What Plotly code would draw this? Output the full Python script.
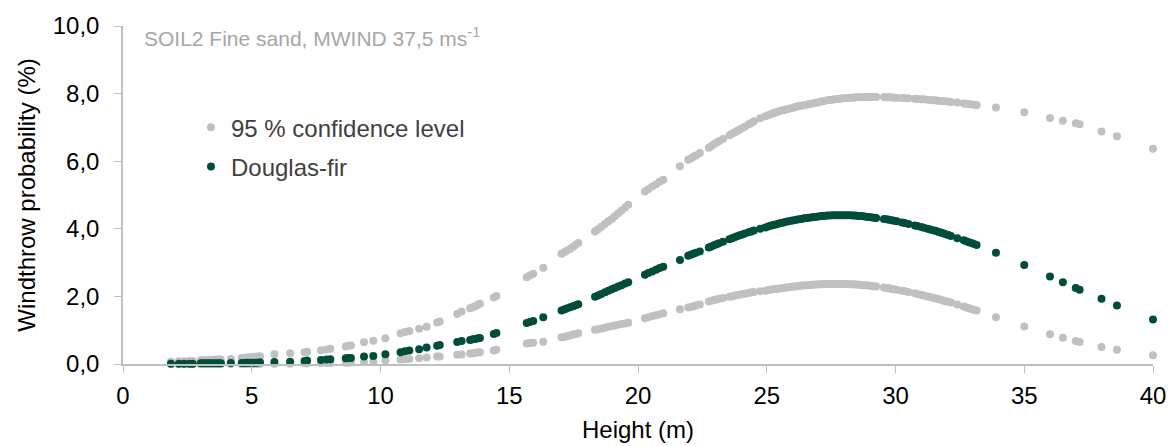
import plotly.graph_objects as go

# Tree height (m) and windthrow probability (%) for Douglas-fir,
# SOIL2 fine sand, MWIND 37.5 m/s, with 95 % confidence bounds.
height = [
    1.86, 2.17, 2.37, 2.58, 2.71, 3.02, 3.12, 3.22, 3.32, 3.42, 3.52, 3.62, 3.72, 3.80,
    4.19, 4.61, 4.70, 4.80, 4.90, 5.00, 5.10, 5.20, 5.32, 5.88, 6.49, 7.05, 7.15, 7.69,
    7.90, 8.05, 8.65, 8.75, 8.85, 9.36, 9.72, 10.19, 10.78, 10.95, 11.12, 11.50, 11.79,
    12.20, 12.30, 12.98, 13.15, 13.48, 13.58, 13.68, 13.78, 13.86, 14.40, 14.50, 15.68,
    15.80, 15.93, 16.32, 17.03, 17.13, 17.23, 17.36, 17.48, 17.58, 17.68, 18.33, 18.45,
    18.58, 18.72, 18.85, 18.98, 19.10, 19.23, 19.36, 19.50, 19.62, 20.27, 20.40, 20.55,
    20.70, 20.84, 20.98, 21.63, 21.95, 22.05, 22.15, 22.25, 22.40, 22.75, 22.85, 22.95,
    23.05, 23.15, 23.30, 23.55, 23.65, 23.75, 23.85, 23.95, 24.05, 24.15, 24.30, 24.40,
    24.50, 24.75, 24.95, 25.05, 25.15, 25.25, 25.35, 25.45, 25.55, 25.65, 25.75, 25.85,
    25.95, 26.05, 26.15, 26.25, 26.35, 26.45, 26.55, 26.65, 26.75, 26.85, 26.95, 27.05,
    27.15, 27.25, 27.35, 27.45, 27.55, 27.65, 27.75, 27.85, 27.95, 28.05, 28.15, 28.25,
    28.35, 28.45, 28.55, 28.65, 28.75, 28.85, 28.95, 29.05, 29.15, 29.25, 29.55, 29.65,
    29.75, 29.85, 29.95, 30.05, 30.25, 30.35, 30.50, 30.75, 30.85, 31.00, 31.10, 31.25,
    31.35, 31.45, 31.55, 31.65, 31.75, 31.85, 31.95, 32.05, 32.15, 32.40, 32.65, 32.75,
    32.85, 32.95, 33.05, 33.15, 33.90, 35.00, 36.00, 36.50, 37.00, 37.15, 38.00, 38.60,
    40.00,
]

upper_ci = [
    0.07, 0.08, 0.08, 0.09, 0.09, 0.11, 0.11, 0.11, 0.12, 0.12, 0.12, 0.13, 0.13, 0.13,
    0.15, 0.18, 0.18, 0.19, 0.20, 0.21, 0.21, 0.22, 0.23, 0.29, 0.32, 0.35, 0.36, 0.41,
    0.43, 0.45, 0.52, 0.54, 0.55, 0.64, 0.69, 0.76, 0.91, 0.95, 0.98, 1.04, 1.10,
    1.23, 1.26, 1.48, 1.55, 1.65, 1.68, 1.71, 1.75, 1.78, 1.97, 2.01, 2.57,
    2.62, 2.67, 2.85, 3.26, 3.30, 3.35, 3.40, 3.47, 3.53, 3.58, 3.92, 3.99,
    4.06, 4.14, 4.22, 4.29, 4.37, 4.45, 4.54, 4.63, 4.71, 5.10, 5.17, 5.25,
    5.32, 5.39, 5.45, 5.85, 6.04, 6.08, 6.13, 6.17, 6.24, 6.40, 6.45, 6.50,
    6.55, 6.60, 6.66, 6.77, 6.81, 6.85, 6.89, 6.94, 6.98, 7.02, 7.09, 7.13,
    7.18, 7.27, 7.33, 7.36, 7.39, 7.42, 7.44, 7.47, 7.49, 7.51, 7.53, 7.55,
    7.57, 7.59, 7.61, 7.63, 7.64, 7.66, 7.67, 7.69, 7.70, 7.72, 7.73, 7.75,
    7.77, 7.78, 7.80, 7.81, 7.82, 7.83, 7.84, 7.85, 7.86, 7.87, 7.87, 7.88,
    7.88, 7.89, 7.89, 7.89, 7.90, 7.90, 7.90, 7.90, 7.90, 7.90, 7.90, 7.89,
    7.89, 7.89, 7.88, 7.88, 7.87, 7.87, 7.86, 7.85, 7.84, 7.83, 7.83, 7.82,
    7.81, 7.80, 7.80, 7.79, 7.78, 7.77, 7.77, 7.76, 7.75, 7.74, 7.71, 7.70,
    7.69, 7.68, 7.67, 7.66, 7.59, 7.45, 7.28, 7.20, 7.12, 7.09, 6.88, 6.74,
    6.37,
]

douglas_fir = [
    0.01, 0.01, 0.01, 0.01, 0.01, 0.02, 0.02, 0.02, 0.02, 0.02, 0.02, 0.02, 0.02, 0.02,
    0.03, 0.03, 0.03, 0.04, 0.04, 0.04, 0.04, 0.04, 0.05, 0.06, 0.07, 0.09, 0.10, 0.12,
    0.13, 0.14, 0.17, 0.18, 0.18, 0.22, 0.24, 0.29, 0.35, 0.38, 0.40, 0.44, 0.49,
    0.54, 0.56, 0.65, 0.68, 0.71, 0.73, 0.74, 0.76, 0.77, 0.89, 0.92, 1.21,
    1.24, 1.27, 1.38, 1.58, 1.61, 1.64, 1.68, 1.71, 1.74, 1.77, 1.99, 2.03,
    2.07, 2.12, 2.17, 2.21, 2.25, 2.29, 2.33, 2.38, 2.42, 2.64, 2.69, 2.74,
    2.79, 2.84, 2.88, 3.08, 3.20, 3.23, 3.26, 3.29, 3.33, 3.45, 3.48, 3.51,
    3.54, 3.57, 3.62, 3.69, 3.72, 3.75, 3.78, 3.81, 3.83, 3.86, 3.90, 3.92,
    3.95, 4.00, 4.04, 4.07, 4.09, 4.11, 4.13, 4.15, 4.17, 4.19, 4.21, 4.22,
    4.24, 4.25, 4.27, 4.28, 4.29, 4.31, 4.32, 4.33, 4.34, 4.35, 4.36, 4.37,
    4.38, 4.38, 4.39, 4.39, 4.40, 4.40, 4.40, 4.40, 4.40, 4.40, 4.40, 4.40,
    4.39, 4.39, 4.38, 4.38, 4.37, 4.36, 4.35, 4.34, 4.33, 4.32, 4.29, 4.28,
    4.27, 4.25, 4.24, 4.22, 4.19, 4.17, 4.14, 4.10, 4.08, 4.05, 4.03, 4.00,
    3.98, 3.96, 3.94, 3.91, 3.89, 3.87, 3.84, 3.82, 3.79, 3.72, 3.66, 3.63,
    3.60, 3.58, 3.55, 3.52, 3.29, 2.93, 2.59, 2.42, 2.25, 2.20, 1.93, 1.73,
    1.32,
]

lower_ci = [
    0.00, 0.00, 0.00, 0.00, 0.00, 0.00, 0.00, 0.00, 0.00, 0.00, 0.00, 0.00, 0.00, 0.00,
    0.00, 0.00, 0.00, 0.00, 0.00, 0.00, 0.01, 0.01, 0.01, 0.01, 0.01, 0.02, 0.02, 0.03,
    0.03, 0.03, 0.04, 0.04, 0.05, 0.06, 0.07, 0.11, 0.13, 0.14, 0.15, 0.17, 0.19,
    0.22, 0.22, 0.27, 0.28, 0.31, 0.32, 0.33, 0.34, 0.35, 0.40, 0.42, 0.61,
    0.62, 0.63, 0.66, 0.79, 0.80, 0.82, 0.84, 0.87, 0.89, 0.91, 1.01, 1.03,
    1.05, 1.07, 1.10, 1.12, 1.14, 1.16, 1.18, 1.20, 1.22, 1.35, 1.38, 1.41,
    1.44, 1.47, 1.50, 1.62, 1.67, 1.69, 1.71, 1.73, 1.76, 1.85, 1.87, 1.89,
    1.91, 1.93, 1.95, 1.99, 2.00, 2.02, 2.04, 2.05, 2.07, 2.08, 2.10, 2.12,
    2.13, 2.15, 2.17, 2.19, 2.20, 2.21, 2.22, 2.23, 2.24, 2.25, 2.26, 2.27,
    2.28, 2.29, 2.30, 2.31, 2.32, 2.32, 2.33, 2.34, 2.34, 2.35, 2.35, 2.36,
    2.36, 2.37, 2.37, 2.37, 2.37, 2.37, 2.37, 2.37, 2.37, 2.37, 2.36, 2.36,
    2.36, 2.35, 2.35, 2.34, 2.33, 2.33, 2.32, 2.31, 2.30, 2.29, 2.26, 2.25,
    2.24, 2.22, 2.21, 2.20, 2.17, 2.16, 2.13, 2.09, 2.07, 2.04, 2.03, 2.00,
    1.98, 1.96, 1.94, 1.92, 1.90, 1.88, 1.86, 1.84, 1.82, 1.76, 1.70, 1.67,
    1.65, 1.63, 1.60, 1.58, 1.38, 1.11, 0.88, 0.78, 0.68, 0.65, 0.50, 0.42,
    0.26,
]

GREY = "#c0c0c0"
GREEN = "#004d3a"
FONT = "Liberation Sans, Arial, sans-serif"

fig = go.Figure()

fig.add_trace(go.Scatter(
    x=height, y=upper_ci, mode="markers", name="95 % confidence level",
    legendgroup="ci", marker=dict(color=GREY, size=8), cliponaxis=False,
))
fig.add_trace(go.Scatter(
    x=height, y=lower_ci, mode="markers", name="95 % confidence level",
    legendgroup="ci", showlegend=False, marker=dict(color=GREY, size=8),
    cliponaxis=False,
))
fig.add_trace(go.Scatter(
    x=height, y=douglas_fir, mode="markers", name="Douglas-fir",
    legendgroup="df", marker=dict(color=GREEN, size=8), cliponaxis=False,
))

fig.add_annotation(
    text="SOIL2 Fine sand, MWIND 37,5 ms<sup>-1</sup>",
    xref="paper", yref="paper", x=0.0185, y=0.968,
    xanchor="left", yanchor="middle", showarrow=False,
    font=dict(family=FONT, size=21, color="#a6a6a6"),
)

axis_common = dict(
    showgrid=False, zeroline=False, showline=True, linecolor="#bfbfbf",
    linewidth=1.5, ticks="outside", tickcolor="#bfbfbf", ticklen=7,
    tickwidth=1, tickfont=dict(family=FONT, size=24, color="#000000"),
    automargin=False,
)

fig.update_layout(
    width=1175, height=446,
    margin=dict(l=123, r=22, t=26, b=82, autoexpand=False),
    paper_bgcolor="white", plot_bgcolor="white",
    separators=", ",
    font=dict(family=FONT, color="#000000"),
    xaxis=dict(
        range=[0, 40], dtick=5, tick0=0, ticklabelstandoff=2,
        title=dict(text="Height (m)", font=dict(family=FONT, size=24), standoff=14),
        **axis_common,
    ),
    yaxis=dict(
        range=[0, 10], dtick=2, tick0=0, tickformat=".1f", ticklabelstandoff=10,
        title=dict(text="Windthrow probability (%)", font=dict(family=FONT, size=24),
                   standoff=10),
        **axis_common,
    ),
    legend=dict(
        x=0.066, y=0.766, xanchor="left", yanchor="top",
        font=dict(family=FONT, size=24, color="#404040"),
        bgcolor="rgba(0,0,0,0)", tracegroupgap=5, itemwidth=30,
    ),
)

fig.write_html("out.html")
